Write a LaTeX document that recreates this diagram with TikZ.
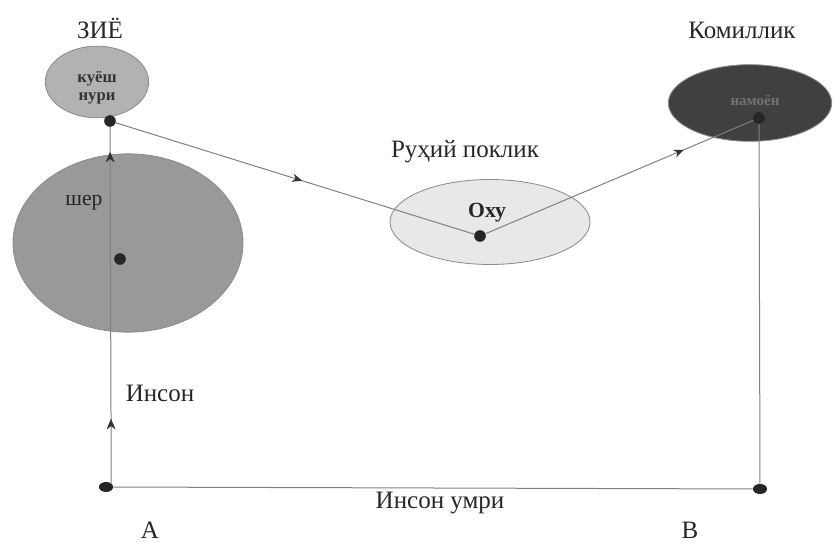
\documentclass[tikz,border=0pt]{standalone}
\usepackage{fontspec}
\setmainfont{Liberation Serif}
\usepackage{tikz}
\usetikzlibrary{shapes.geometric,decorations.markings,arrows.meta}

\tikzset{
  lbl/.style={font=\fontsize{15}{17}\selectfont, text=black!85},
  blob/.style={ellipse, draw=black!45, line width=0.5pt},
  dot/.style={circle, fill=black!85, inner sep=0pt, minimum size=7pt},
  enddot/.style={ellipse, fill=black!85, inner sep=0pt, minimum width=8.5pt, minimum height=6pt},
  link/.style={draw=black!50, line width=0.6pt},
  midarrow/.style={postaction={decorate}, decoration={markings,
      mark=at position #1 with {\arrow[black!80]{Stealth[length=6pt,width=5pt]}}}}
}

\begin{document}
\begin{tikzpicture}[x=0.6pt, y=-0.6pt]
\useasboundingbox (0,0) rectangle (833,544);

% ellipses
\node[blob, fill=black!40, minimum width=138pt, minimum height=107pt] (lion) at (128,243) {};
\node[blob, fill=black!30, minimum width=62pt, minimum height=43pt] (sun) at (97,82) {};
\node[blob, fill=black!9, minimum width=120pt, minimum height=51pt] (spirit) at (490,222) {};
\node[blob, fill=black!75, minimum width=98pt, minimum height=46pt] (perfect) at (750,103) {};

% texts inside
\node[font=\fontsize{10}{11}\selectfont\bfseries, text=black!80, align=center] at (97,88) {куёш\\нури};
\node[font=\fontsize{13}{15}\selectfont, text=black!85] at (84,203) {шер};
\node[font=\fontsize{13}{15}\selectfont\bfseries, text=black!85] at (487,213) {Оху};
\node[font=\fontsize{9}{10}\selectfont\bfseries, text=black!55] at (755,101) {намоён};

% dots
\node[dot] (sunD) at (110,121) {};
\node[dot] (lionD) at (120,259) {};
\node[dot] (spiritD) at (480,236) {};
\node[dot] (perfectD) at (759,118) {};
\node[enddot] (A) at (106,487) {};
\node[enddot] (B) at (760,489) {};

% connectors
\draw[link, midarrow=0.18, midarrow=0.93] (A.north east) -- (sunD);
\draw[link, midarrow=0.52] (sunD) -- (spiritD);
\draw[link, midarrow=0.74] (spiritD) -- (perfectD);
\draw[link] (perfectD) -- (B);
\draw[link] (A) -- (B);

% labels
\node[lbl] (zie) at (100,28) {ЗИЁ};
\node[lbl] (kom) at (742,30) {Комиллик};
\node[lbl] (ruh) at (465,152) {Руҳий поклик};
\node[lbl] (inson) at (160,393) {Инсон};
\node[lbl] (umr) at (440,503) {Инсон умри};
\node[lbl] (la) at (150,530) {А};
\node[lbl] (lb) at (690,530) {В};

\end{tikzpicture}
\end{document}
